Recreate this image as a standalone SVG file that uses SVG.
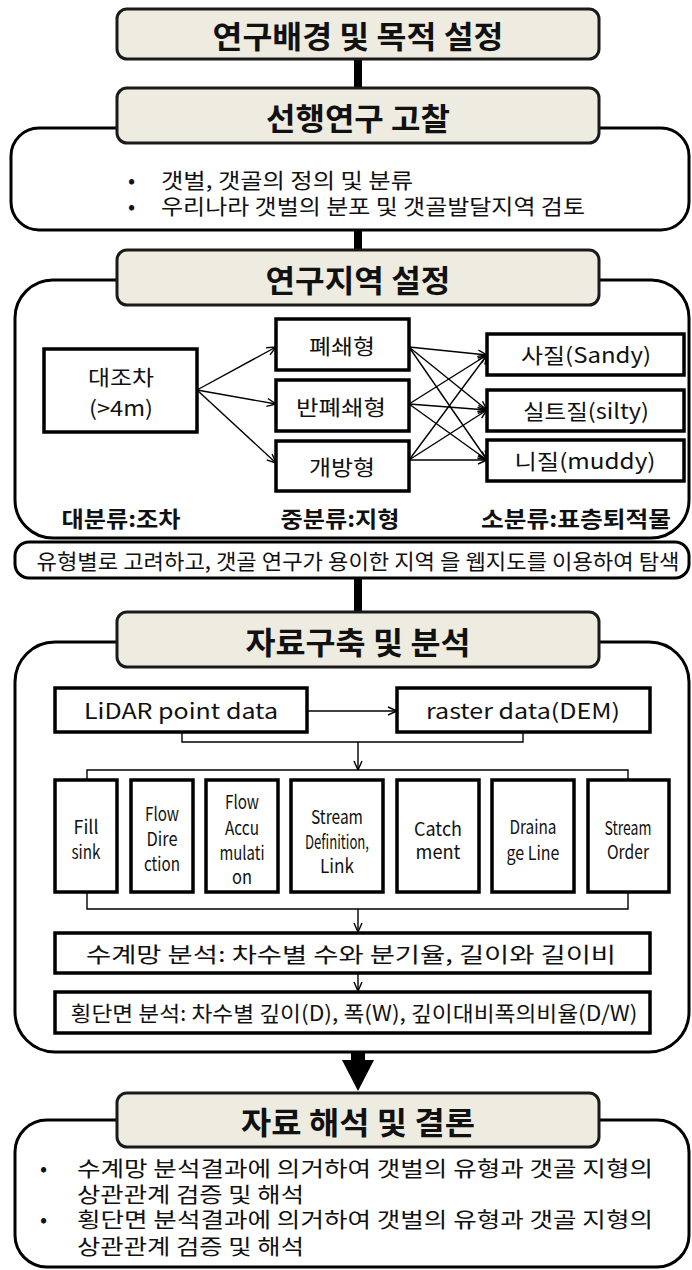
<svg xmlns="http://www.w3.org/2000/svg" width="692" height="1270" viewBox="0 0 692 1270">
<defs>
<style>
.title{fill:#EEECE1;stroke:#1a1a1a;stroke-width:3}
.cont{fill:#fff;stroke:#000;stroke-width:3}
.box{fill:#fff;stroke:#000;stroke-width:3.5}
.tt{font-family:"Noto Sans CJK KR","Noto Sans",sans-serif;font-weight:bold;font-size:31px;fill:#111;text-anchor:middle;dominant-baseline:central}
.t{font-family:"Noto Sans CJK KR","Noto Sans",sans-serif;font-size:21px;fill:#111}
.c{text-anchor:middle;dominant-baseline:central}
.lb{font-family:"Noto Sans CJK KR","Noto Sans",sans-serif;font-weight:bold;font-size:22px;fill:#111;text-anchor:middle;dominant-baseline:central}
.sm{font-family:"Noto Sans CJK KR","Noto Sans",sans-serif;font-size:19px;fill:#111;text-anchor:middle;dominant-baseline:central}
.thin{stroke:#000;stroke-width:1.4;fill:none}
.thick{stroke:#000;stroke-width:8;fill:none}
</style>
<marker id="ah" viewBox="0 0 10 10" refX="10" refY="5" markerWidth="10" markerHeight="10" markerUnits="userSpaceOnUse" orient="auto">
<path d="M1,1 L10,5 L1,9" fill="none" stroke="#000" stroke-width="1.4"/>
</marker>
</defs>
<rect width="692" height="1270" fill="#fff"/>

<g id="connectors">
<line class="thick" x1="358" y1="58" x2="358" y2="90"/>
<line class="thick" x1="358" y1="229" x2="358" y2="252"/>
<line class="thick" x1="358" y1="577" x2="358" y2="614"/>
<rect x="351" y="1051" width="14" height="11" fill="#000"/>
<polygon points="342,1060 374,1060 358,1091" fill="#000"/>
</g>

<g id="intro">
<rect class="cont" x="11" y="128" width="678" height="102" rx="28"/>
<text class="t" x="128" y="179" dominant-baseline="central" font-size="20">•</text>
<text class="t" x="161" y="179" dominant-baseline="central" textLength="252" lengthAdjust="spacingAndGlyphs">갯벌, 갯골의 정의 및 분류</text>
<text class="t" x="128" y="205" dominant-baseline="central" font-size="20">•</text>
<text class="t" x="161" y="205" dominant-baseline="central" textLength="424" lengthAdjust="spacingAndGlyphs">우리나라 갯벌의 분포 및 갯골발달지역 검토</text>
</g>

<g id="study-area">
<rect class="cont" x="15" y="280" width="674" height="258" rx="38"/>
</g>

<g id="data">
<rect class="cont" x="15" y="642" width="674" height="410" rx="40"/>
</g>

<g id="conclusion">
<rect class="cont" x="15" y="1120" width="674" height="147" rx="32"/>
<text class="t" x="40" y="1167" dominant-baseline="central" font-size="22">•</text>
<text class="t" x="77" y="1167" dominant-baseline="central" font-size="23" textLength="576" lengthAdjust="spacingAndGlyphs">수계망 분석결과에 의거하여 갯벌의 유형과 갯골 지형의</text>
<text class="t" x="77" y="1193" dominant-baseline="central" font-size="23" textLength="227" lengthAdjust="spacingAndGlyphs">상관관계 검증 및 해석</text>
<text class="t" x="40" y="1218" dominant-baseline="central" font-size="22">•</text>
<text class="t" x="77" y="1218" dominant-baseline="central" font-size="23" textLength="576" lengthAdjust="spacingAndGlyphs">횡단면 분석결과에 의거하여 갯벌의 유형과 갯골 지형의</text>
<text class="t" x="77" y="1245" dominant-baseline="central" font-size="23" textLength="227" lengthAdjust="spacingAndGlyphs">상관관계 검증 및 해석</text>
</g>

<g id="title1"><rect class="title" x="117" y="9" width="482" height="50" rx="10"/><text class="tt" x="358" y="34" textLength="291" lengthAdjust="spacingAndGlyphs">연구배경 및 목적 설정</text></g>
<g id="title2"><rect class="title" x="117" y="88" width="482" height="55" rx="10"/><text class="tt" x="358" y="116" textLength="184" lengthAdjust="spacingAndGlyphs">선행연구 고찰</text></g>
<g id="title3"><rect class="title" x="117" y="250" width="482" height="55" rx="10"/><text class="tt" x="358" y="278" textLength="185" lengthAdjust="spacingAndGlyphs">연구지역 설정</text></g>
<g id="title4"><rect class="title" x="117" y="612" width="482" height="55" rx="10"/><text class="tt" x="358" y="640" textLength="225" lengthAdjust="spacingAndGlyphs">자료구축 및 분석</text></g>
<g id="title5"><rect class="title" x="117" y="1093" width="482" height="54" rx="10"/><text class="tt" x="358" y="1120" textLength="234" lengthAdjust="spacingAndGlyphs">자료 해석 및 결론</text></g>

<g id="n-tide"><rect class="box" x="44" y="349" width="153" height="83"/><text class="t c" x="121" y="376" font-size="22" textLength="66" lengthAdjust="spacingAndGlyphs">대조차</text><text class="t c" x="121" y="407" font-size="22" textLength="64" lengthAdjust="spacingAndGlyphs">(&gt;4m)</text></g>
<g id="n-closed"><rect class="box" x="276" y="319" width="133" height="51"/><text class="t c" x="342" y="345" font-size="22" textLength="66" lengthAdjust="spacingAndGlyphs">폐쇄형</text></g>
<g id="n-semi"><rect class="box" x="276" y="380" width="133" height="51"/><text class="t c" x="341" y="406" font-size="22" textLength="90" lengthAdjust="spacingAndGlyphs">반폐쇄형</text></g>
<g id="n-open"><rect class="box" x="276" y="441" width="133" height="50"/><text class="t c" x="342" y="466" font-size="22" textLength="66" lengthAdjust="spacingAndGlyphs">개방형</text></g>
<g id="n-sandy"><rect class="box" x="487" y="334" width="197" height="41"/><text class="t c" x="586" y="354" font-size="22" textLength="130" lengthAdjust="spacingAndGlyphs">사질(Sandy)</text></g>
<g id="n-silty"><rect class="box" x="487" y="390" width="197" height="41"/><text class="t c" x="586" y="410" font-size="22" textLength="126" lengthAdjust="spacingAndGlyphs">실트질(silty)</text></g>
<g id="n-muddy"><rect class="box" x="487" y="440" width="197" height="41"/><text class="t c" x="585" y="460" font-size="22" textLength="141" lengthAdjust="spacingAndGlyphs">니질(muddy)</text></g>
<g id="labels">
<text class="lb" x="121" y="517" textLength="119" lengthAdjust="spacingAndGlyphs">대분류:조차</text>
<text class="lb" x="340" y="517" textLength="119" lengthAdjust="spacingAndGlyphs">중분류:지형</text>
<text class="lb" x="576" y="517" textLength="190" lengthAdjust="spacingAndGlyphs">소분류:표층퇴적물</text>
</g>
<g id="n-band"><rect class="cont" x="15" y="542" width="674" height="36" rx="14"/><text class="t c" x="358" y="560" textLength="643" lengthAdjust="spacingAndGlyphs">유형별로 고려하고, 갯골 연구가 용이한 지역 을 웹지도를 이용하여 탐색</text></g>

<g id="n-lidar"><rect class="box" x="55" y="688" width="252" height="44"/><text class="t c" x="181" y="710" font-size="23" textLength="194" lengthAdjust="spacingAndGlyphs">LiDAR point data</text></g>
<g id="n-raster"><rect class="box" x="397" y="688" width="253" height="44"/><text class="t c" x="523" y="710" font-size="23" textLength="194" lengthAdjust="spacingAndGlyphs">raster data(DEM)</text></g>

<g id="n-fill"><rect class="box" x="55" y="780" width="62" height="112"/><text class="sm" x="86" y="825" textLength="25" lengthAdjust="spacingAndGlyphs">Fill</text><text class="sm" x="86" y="850" textLength="29" lengthAdjust="spacingAndGlyphs">sink</text></g>
<g id="n-flowdir"><rect class="box" x="131" y="780" width="62" height="112"/><text class="sm" x="162" y="812" textLength="34" lengthAdjust="spacingAndGlyphs">Flow</text><text class="sm" x="162" y="837" textLength="31" lengthAdjust="spacingAndGlyphs">Dire</text><text class="sm" x="162" y="862" textLength="36" lengthAdjust="spacingAndGlyphs">ction</text></g>
<g id="n-flowacc"><rect class="box" x="206" y="780" width="72" height="112"/><text class="sm" x="242" y="800" textLength="34" lengthAdjust="spacingAndGlyphs">Flow</text><text class="sm" x="242" y="826" textLength="34" lengthAdjust="spacingAndGlyphs">Accu</text><text class="sm" x="242" y="851" textLength="45" lengthAdjust="spacingAndGlyphs">mulati</text><text class="sm" x="242" y="875" textLength="20" lengthAdjust="spacingAndGlyphs">on</text></g>
<g id="n-streamdef"><rect class="box" x="291" y="780" width="92" height="112"/><text class="sm" x="337" y="815" textLength="52" lengthAdjust="spacingAndGlyphs">Stream</text><text class="sm" x="337" y="840" textLength="64" lengthAdjust="spacingAndGlyphs">Definition,</text><text class="sm" x="337" y="864" textLength="34" lengthAdjust="spacingAndGlyphs">Link</text></g>
<g id="n-catch"><rect class="box" x="397" y="780" width="82" height="112"/><text class="sm" x="438" y="827" textLength="48" lengthAdjust="spacingAndGlyphs">Catch</text><text class="sm" x="438" y="850" textLength="45" lengthAdjust="spacingAndGlyphs">ment</text></g>
<g id="n-drain"><rect class="box" x="492" y="780" width="82" height="112"/><text class="sm" x="533" y="825" textLength="47" lengthAdjust="spacingAndGlyphs">Draina</text><text class="sm" x="533" y="851" textLength="53" lengthAdjust="spacingAndGlyphs">ge Line</text></g>
<g id="n-order"><rect class="box" x="588" y="780" width="81" height="112"/><text class="sm" x="628" y="826" font-size="17" textLength="47" lengthAdjust="spacingAndGlyphs">Stream</text><text class="sm" x="628" y="850" font-size="17" textLength="42" lengthAdjust="spacingAndGlyphs">Order</text></g>

<g id="n-network"><rect class="box" x="55" y="933" width="595" height="40"/><text class="t c" x="351" y="953" font-size="23" textLength="530" lengthAdjust="spacingAndGlyphs">수계망 분석: 차수별 수와 분기율, 길이와 길이비</text></g>
<g id="n-cross"><rect class="box" x="55" y="992" width="595" height="41"/><text class="t c" x="354" y="1012" font-size="22" textLength="567" lengthAdjust="spacingAndGlyphs">횡단면 분석: 차수별 깊이(D), 폭(W), 깊이대비폭의비율(D/W)</text></g>

<g id="edges">
<line class="thin" x1="197" y1="390" x2="276" y2="347" marker-end="url(#ah)"/>
<line class="thin" x1="197" y1="390" x2="276" y2="404" marker-end="url(#ah)"/>
<line class="thin" x1="197" y1="390" x2="276" y2="463" marker-end="url(#ah)"/>
<line class="thin" x1="409" y1="347" x2="487" y2="355" marker-end="url(#ah)"/>
<line class="thin" x1="409" y1="347" x2="487" y2="410" marker-end="url(#ah)"/>
<line class="thin" x1="409" y1="347" x2="487" y2="460" marker-end="url(#ah)"/>
<line class="thin" x1="409" y1="404" x2="487" y2="355" marker-end="url(#ah)"/>
<line class="thin" x1="409" y1="404" x2="487" y2="410" marker-end="url(#ah)"/>
<line class="thin" x1="409" y1="404" x2="487" y2="460" marker-end="url(#ah)"/>
<line class="thin" x1="409" y1="460" x2="487" y2="355" marker-end="url(#ah)"/>
<line class="thin" x1="409" y1="460" x2="487" y2="410" marker-end="url(#ah)"/>
<line class="thin" x1="409" y1="460" x2="487" y2="460" marker-end="url(#ah)"/>
<line class="thin" x1="307" y1="711" x2="397" y2="711" marker-end="url(#ah)"/>
<polyline class="thin" points="182,732 182,742 523,742 523,732"/>
<line class="thin" x1="358" y1="742" x2="358" y2="770" marker-end="url(#ah)"/>
<polyline class="thin" points="87,780 87,770 628,770 628,780"/>
<polyline class="thin" points="87,892 87,909 628,909 628,892"/>
<line class="thin" x1="358" y1="909" x2="358" y2="932" marker-end="url(#ah)"/>
<line class="thin" x1="358" y1="973" x2="358" y2="991" marker-end="url(#ah)"/>
</g>
</svg>
